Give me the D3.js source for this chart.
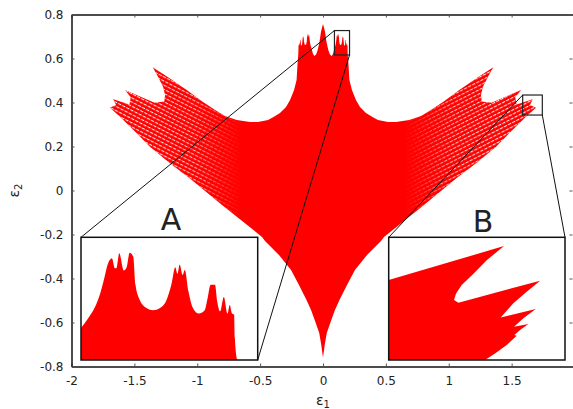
<!DOCTYPE html>
<html>
<head>
<meta charset="utf-8">
<script src="https://cdnjs.cloudflare.com/ajax/libs/d3/7.8.5/d3.min.js"></script>
<style>
html, body { margin: 0; padding: 0; background: #fff; overflow: hidden; }
text { font-family: "DejaVu Sans", sans-serif; fill: #222; }
</style>
</head>
<body>
<div id="chart"></div>
<script>
// axis ticks (the label of 2 falls off the picture)
var xTicks = [-2, -1.5, -1, -0.5, 0, 0.5, 1, 1.5, 2];
var xLabels = ['-2', '-1.5', '-1', '-0.5', '0', '0.5', '1', '1.5', ''];
var yTicks = [-0.8, -0.6, -0.4, -0.2, 0, 0.2, 0.4, 0.6, 0.8];

// outline of the region, right half only (the plot is symmetric in e1)
var centrePeak = [[0, 0.757], [0.008, 0.74], [0.016, 0.722], [0.028, 0.675], [0.042, 0.639], [0.055, 0.618], [0.069, 0.611], [0.08, 0.622]];

// crown seen in inset A
var crownA = [[0.091, 0.645], [0.096, 0.654], [0.1005, 0.664], [0.104, 0.676], [0.107, 0.691],
    [0.109, 0.702], [0.112, 0.708], [0.114, 0.699], [0.115, 0.699], [0.117, 0.7125],
    [0.12, 0.697], [0.122, 0.7], [0.124, 0.713], [0.1265, 0.7095], [0.128, 0.684],
    [0.131, 0.67], [0.1355, 0.663], [0.14, 0.661], [0.1446, 0.663], [0.149, 0.67],
    [0.1525, 0.685], [0.155, 0.7], [0.1565, 0.694], [0.158, 0.7025], [0.16, 0.693],
    [0.1615, 0.6975], [0.164, 0.678], [0.167, 0.663], [0.171, 0.658], [0.175, 0.661],
    [0.177, 0.672], [0.179, 0.684], [0.182, 0.684], [0.1835, 0.669], [0.1855, 0.66],
    [0.188, 0.673], [0.1905, 0.658], [0.192, 0.6658], [0.1936, 0.658], [0.195, 0.657],
    [0.1955, 0.6356], [0.197, 0.616]];

var shoulder = [[0.203, 0.57], [0.21, 0.502], [0.23, 0.457], [0.262, 0.411], [0.294, 0.38],
    [0.342, 0.352], [0.39, 0.335], [0.437, 0.32], [0.517, 0.311], [0.58, 0.311], [0.686, 0.32],
    [0.78, 0.339], [0.858, 0.366], [0.96, 0.405], [1.084, 0.457], [1.22, 0.51], [1.354, 0.56]];

var wingTips = [[1.312, 0.517], [1.272, 0.472], [1.256, 0.434], [1.262, 0.404], [1.34, 0.399],
    [1.575, 0.457], [1.529, 0.424], [1.539, 0.391], [1.668, 0.415], [1.646, 0.389], [1.694, 0.376]];

var lowerEdge = [[1.614, 0.335], [1.521, 0.283], [1.376, 0.199], [1.217, 0.124], [1.058, 0.055],
    [0.803, -0.066], [0.485, -0.211], [0.461, -0.23], [0.35, -0.293], [0.254, -0.361], [0.191, -0.43],
    [0.131, -0.498], [0.095, -0.543], [0.066, -0.589], [0.048, -0.618], [0.03, -0.648],
    [0.0135, -0.702], [0.003, -0.748], [0, -0.757]];

// zoom windows [e1 low, e1 high, e2 low, e2 high]
var zoomA = [0.091, 0.211, 0.616, 0.727];
var zoomB = [1.588, 1.744, 0.343, 0.434];

// corners of the region in inset B
var cornerB = [[1.588, 0.343], [1.588, 0.4023], [1.69, 0.4275], [1.6747, 0.417], [1.663, 0.407],
    [1.6526, 0.3986], [1.6476, 0.3924], [1.6458, 0.3875], [1.6497, 0.3855], [1.722, 0.4018],
    [1.7101, 0.3936], [1.6983, 0.385], [1.6871, 0.3746], [1.7181, 0.3808], [1.7072, 0.3739],
    [1.6989, 0.3677], [1.7116, 0.3697], [1.7042, 0.3652], [1.6992, 0.3615], [1.7013, 0.361],
    [1.6924, 0.3541], [1.6821, 0.3479], [1.6733, 0.343]];

var redColor = '#ff0000';
var width = 573, height = 409;

var x = d3.scaleLinear().domain([-2, 2]).range([71.5, 574.5]);
var y = d3.scaleLinear().domain([-0.8, 0.8]).range([366.5, 14.5]);

var svg = d3.select('#chart').append('svg')
    .attr('width', width)
    .attr('height', height)
    .style('display', 'block');

var defs = svg.append('defs');

// the wings are a lattice of thin strokes, not a solid fill
function addLattice(id, angle) {
    var p = defs.append('pattern')
        .attr('id', id)
        .attr('patternUnits', 'userSpaceOnUse')
        .attr('width', 4.6)
        .attr('height', 3.7)
        .attr('patternTransform', 'rotate(' + angle + ')');
    p.append('rect')
        .attr('x', 0.4)
        .attr('y', 1)
        .attr('width', 3.4)
        .attr('height', 1)
        .attr('fill', '#fff');
}
addLattice('latticeLeft', 27);
addLattice('latticeRight', -27);

function addFade(id, from, to) {
    var g = defs.append('linearGradient')
        .attr('id', id + 'Grad')
        .attr('gradientUnits', 'userSpaceOnUse')
        .attr('x1', x(from)).attr('y1', 0)
        .attr('x2', x(to)).attr('y2', 0);
    g.append('stop').attr('offset', '0').attr('stop-color', '#fff').attr('stop-opacity', 1);
    g.append('stop').attr('offset', '0.5').attr('stop-color', '#fff').attr('stop-opacity', 0.8);
    g.append('stop').attr('offset', '0.8').attr('stop-color', '#fff').attr('stop-opacity', 0.3);
    g.append('stop').attr('offset', '1').attr('stop-color', '#fff').attr('stop-opacity', 0);
    defs.append('mask')
        .attr('id', id)
        .attr('maskUnits', 'userSpaceOnUse')
        .attr('x', 0).attr('y', 0).attr('width', width).attr('height', height)
        .append('rect')
        .attr('width', width).attr('height', height)
        .attr('fill', 'url(#' + id + 'Grad)');
}
addFade('fadeLeft', -1.4, -0.65);
addFade('fadeRight', 1.4, 0.65);

// full outline: right half going down, then mirrored going back up
var rightHalf = centrePeak.concat(crownA, shoulder, wingTips, lowerEdge);
var leftHalf = rightHalf.slice(1, -1).reverse().map(function (d) {
    return [-d[0], d[1]];
});
var outline = rightHalf.concat(leftHalf);

var line = d3.line()
    .x(function (d) { return x(d[0]); })
    .y(function (d) { return y(d[1]); });

svg.append('path')
    .attr('d', line(outline) + 'Z')
    .attr('fill', redColor);

svg.append('path')
    .attr('d', line(outline) + 'Z')
    .attr('fill', 'url(#latticeLeft)')
    .attr('mask', 'url(#fadeLeft)');

svg.append('path')
    .attr('d', line(outline) + 'Z')
    .attr('fill', 'url(#latticeRight)')
    .attr('mask', 'url(#fadeRight)');

// axes, gnuplot style with inward ticks on all four sides
function styleAxis(g) {
    g.select('.domain').attr('stroke', '#111').attr('stroke-width', 1.5);
    g.selectAll('.tick line').attr('stroke', '#555').attr('stroke-width', 1);
    g.selectAll('.tick text').attr('font-size', 12).style('font-family', '"DejaVu Sans", sans-serif').attr('fill', '#222');
}

svg.append('g')
    .attr('transform', 'translate(0,' + y(-0.8) + ')')
    .call(d3.axisBottom(x).tickValues(xTicks)
        .tickFormat(function (d, i) { return xLabels[i]; })
        .tickSizeInner(-3).tickSizeOuter(0).tickPadding(10))
    .call(styleAxis);

svg.append('g')
    .attr('transform', 'translate(0,' + y(0.8) + ')')
    .call(d3.axisTop(x).tickValues(xTicks).tickFormat('').tickSizeInner(-3).tickSizeOuter(0))
    .call(styleAxis);

svg.append('g')
    .attr('transform', 'translate(' + x(-2) + ',0)')
    .call(d3.axisLeft(y).tickValues(yTicks).tickFormat(function (d) { return String(d); })
        .tickSizeInner(-3).tickSizeOuter(0).tickPadding(8))
    .call(styleAxis);

svg.append('g')
    .attr('transform', 'translate(' + (x(2) - 2) + ',0)')
    .call(d3.axisRight(y).tickValues(yTicks).tickFormat('').tickSizeInner(-3).tickSizeOuter(0))
    .call(function (g) {
        styleAxis(g);
        g.select('.domain').remove();
    });

// axis titles
var xTitle = svg.append('text')
    .attr('x', x(0))
    .attr('y', 405)
    .attr('text-anchor', 'middle')
    .attr('font-size', 14);
xTitle.append('tspan').text('ε');
xTitle.append('tspan').attr('font-size', 10).attr('dy', 3).text('1');

var yTitle = svg.append('text')
    .attr('transform', 'translate(19,' + y(0) + ') rotate(-90)')
    .attr('text-anchor', 'middle')
    .attr('font-size', 14);
yTitle.append('tspan').text('ε');
yTitle.append('tspan').attr('font-size', 10).attr('dy', 3).text('2');

// insets
var insets = [
    { name: 'A', zoom: zoomA, shape: crownA, smooth: true, left: 81, right: 257.7, labelX: 171, labelY: 230 },
    { name: 'B', zoom: zoomB, shape: cornerB, smooth: false, left: 388.7, right: 565, labelX: 483, labelY: 232 }
];
var insetTop = 237.3, insetBottom = 360;

insets.forEach(function (inset) {
    var z = inset.zoom;

    // zoom window drawn on the main plot
    svg.append('rect')
        .attr('x', x(z[0]))
        .attr('y', y(z[3]))
        .attr('width', x(z[1]) - x(z[0]))
        .attr('height', y(z[2]) - y(z[3]))
        .attr('fill', 'none')
        .attr('stroke', '#222')
        .attr('stroke-width', 1.2);

    // connector lines
    svg.append('line')
        .attr('x1', x(z[0])).attr('y1', y(z[3]))
        .attr('x2', inset.left).attr('y2', insetTop)
        .attr('stroke', '#111').attr('stroke-width', 1);
    var lineRight = inset.name == 'A' ? insetBottom : insetTop;
    svg.append('line')
        .attr('x1', x(z[1])).attr('y1', y(z[2]))
        .attr('x2', inset.right).attr('y2', lineRight)
        .attr('stroke', '#111').attr('stroke-width', 1);

    var ix = d3.scaleLinear().domain([z[0], z[1]]).range([inset.left, inset.right]);
    var iy = d3.scaleLinear().domain([z[2], z[3]]).range([insetBottom, insetTop]);

    svg.append('rect')
        .attr('x', inset.left)
        .attr('y', insetTop)
        .attr('width', inset.right - inset.left)
        .attr('height', insetBottom - insetTop)
        .attr('fill', '#fff');

    var insetLine = d3.line()
        .x(function (d) { return ix(d[0]); })
        .y(function (d) { return iy(d[1]); })
        .curve(inset.smooth ? d3.curveMonotoneX : d3.curveLinear);

    // crown A runs left to right along the top, so close it along the bottom left corner
    var closing = inset.smooth ? 'L' + ix(z[0]) + ',' + iy(z[2]) : '';

    svg.append('path')
        .attr('d', insetLine(inset.shape) + closing + 'Z')
        .attr('fill', redColor);

    svg.append('rect')
        .attr('x', inset.left)
        .attr('y', insetTop)
        .attr('width', inset.right - inset.left)
        .attr('height', insetBottom - insetTop)
        .attr('fill', 'none')
        .attr('stroke', '#111')
        .attr('stroke-width', 1.5);

    svg.append('text')
        .attr('x', inset.labelX)
        .attr('y', inset.labelY)
        .attr('text-anchor', 'middle')
        .attr('font-size', 30)
        .text(inset.name);
});
</script>
</body>
</html>
